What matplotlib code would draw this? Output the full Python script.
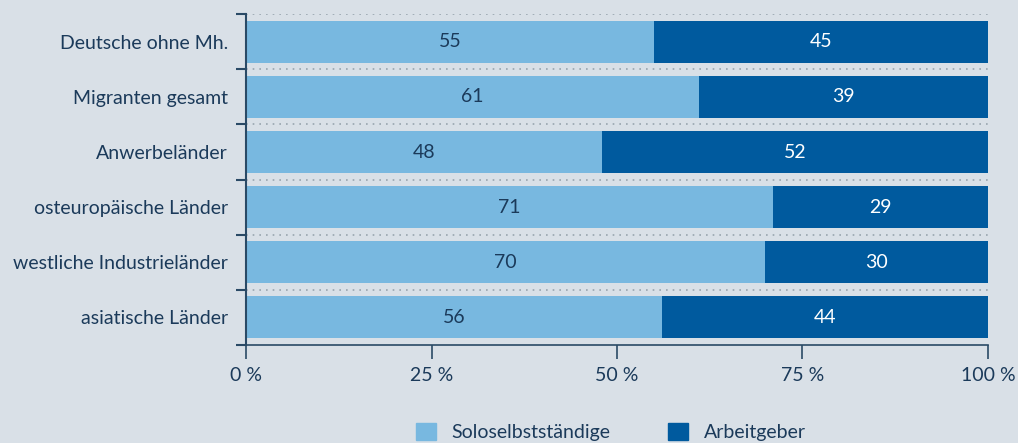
import matplotlib.pyplot as plt
import numpy as np
from matplotlib.patches import Patch

plt.rcParams["font.family"] = ["Lato", "DejaVu Sans"]

# Daten
kategorien = ["Deutsche ohne Mh.", "Migranten gesamt", "Anwerbeländer",
              "osteuropäische Länder", "westliche Industrieländer", "asiatische Länder"]
solo = [55, 61, 48, 71, 70, 56]
arbeitgeber = [45, 39, 52, 29, 30, 44]
xticks = [0, 25, 50, 75, 100]
xticklabels = ["0 %", "25 %", "50 %", "75 %", "100 %"]

bg = "#d9e0e7"
hell = "#78b8e0"
dunkel = "#005a9e"
text = "#1b3a5a"
fs = 14

fig = plt.figure(figsize=(10.18, 4.43), dpi=100, facecolor=bg)
ax = fig.add_axes([0.2417, 0.2212, 0.7288, 0.7468], facecolor=bg)

y = np.arange(len(kategorien))
ax.barh(y, solo, height=0.76, color=hell)
ax.barh(y, arbeitgeber, left=solo, height=0.76, color=dunkel)

for i in range(len(kategorien)):
    ax.text(solo[i] / 2, y[i], str(solo[i]), ha="center", va="center",
            fontsize=fs, color=text)
    ax.text(solo[i] + arbeitgeber[i] / 2, y[i], str(arbeitgeber[i]),
            ha="center", va="center", fontsize=fs, color="white")

ax.set_ylim(len(kategorien) - 0.5, -0.5)
ax.set_xlim(0, 100)

# Trennlinien zwischen Kategorien
grenzen = np.arange(-0.5, len(kategorien), 1.0)
ax.set_yticks(grenzen)
ax.set_yticklabels([])
ax.set_yticks(y, minor=True)
ax.set_yticklabels(kategorien, minor=True, fontsize=fs, color=text)
ax.tick_params(axis="y", which="minor", length=0, pad=13)
ax.tick_params(axis="y", which="major", length=7, width=1.5, color="#2a4a66")
for g in grenzen[:-1]:
    ax.axhline(g, color="#98a4ae", linestyle=(0, (1, 3)), linewidth=1.2, zorder=0)

ax.set_xticks(xticks)
ax.set_xticklabels(xticklabels, fontsize=fs, color=text)
ax.tick_params(axis="x", length=10, width=1.2, color="#2a4a66", pad=6)

for s in ["top", "right"]:
    ax.spines[s].set_visible(False)
ax.spines["left"].set_color("#2a4a66")
ax.spines["left"].set_linewidth(1.5)
ax.spines["bottom"].set_color("#2a4a66")
ax.spines["bottom"].set_linewidth(1.2)

handles = [Patch(color=hell, label="Soloselbstständige"),
           Patch(color=dunkel, label="Arbeitgeber")]
fig.legend(handles=handles, loc="center", bbox_to_anchor=(0.6, 0.025),
           ncol=2, frameon=False, fontsize=fs, labelcolor=text,
           handlelength=1.0, handleheight=1.0, columnspacing=3.0)

plt.savefig("out.png", dpi=100, facecolor=bg)
